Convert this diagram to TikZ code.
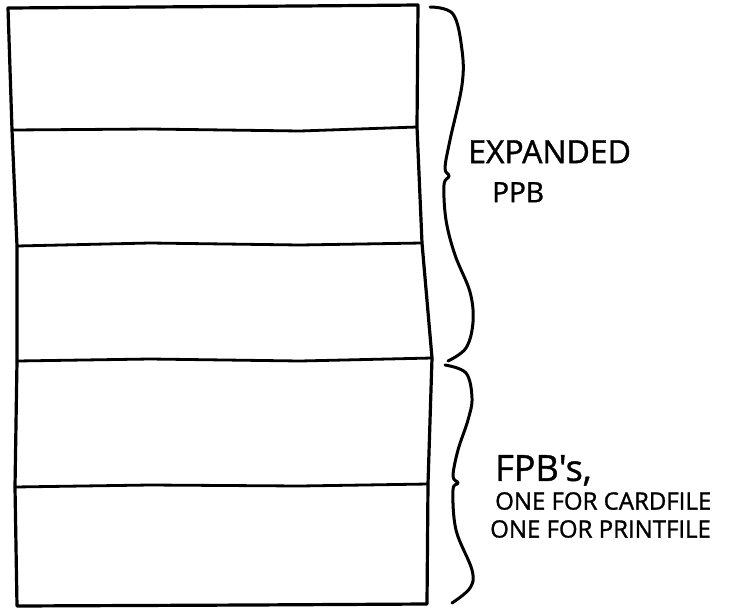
\documentclass[tikz,border=0pt]{standalone}
\usepackage{fontspec}
\setmainfont{Open Sans}
\newfontfamily\handfont{Open Sans}[FakeBold=1.2]
\usetikzlibrary{positioning}

\begin{document}
\begin{tikzpicture}[x=1pt, y=-1pt,
        frame/.style={line width=3.2pt, line join=round, line cap=round},
        divider/.style={line width=2.8pt, line cap=round},
        brace/.style={line width=3pt, line cap=round, line join=round},
        tag/.style={inner sep=0pt, anchor=north west}
    ]
        \useasboundingbox (0,0) rectangle (737,611);

        % the block, drawn by hand
        \draw[frame] (8,8) -- (150,7) -- (300,6) -- (418,5) -- (417,127) -- (422,243) -- (432,358)
            -- (428,484) -- (427,604) -- (250,605) -- (17,606) -- (15,487) -- (17,361) -- (17,246) -- (12,130) -- cycle;
        \draw[divider] (12,130) -- (150,129) -- (300,131) -- (417,127);
        \draw[divider] (17,246) -- (150,243) -- (300,245) -- (422,243);
        \draw[divider] (17,361) -- (150,359) -- (300,361) -- (432,358);
        \draw[divider] (15,487) -- (150,485) -- (300,486) -- (428,484);

        % braces
        \draw[brace] plot[smooth, tension=0.6] coordinates {(430,7) (453,14) (462,50) (462,85) (450,140)
            (445,168) (449,176) (444,185) (446,220) (455,255) (470,292) (473,322) (466,348) (448,361)};
        \draw[brace] plot[smooth, tension=0.6] coordinates {(445,365) (466,373) (472,398) (468,420) (458,450)
            (453,476) (458,483) (453,490) (456,530) (472,570) (470,588) (452,603)};

        \node[tag, font=\handfont\fontsize{32}{36}\selectfont] (expanded) at (468,140) {EXPANDED};
        \node[tag, font=\handfont\fontsize{28}{32}\selectfont] (ppb) at (492,182) {PPB};
        \node[tag, font=\handfont\fontsize{36}{40}\selectfont] (fpbs) at (495,455) {FPB's,};
        \node[tag, font=\handfont\fontsize{24}{28}\selectfont] (cardfile) at (495,492) {ONE FOR CARDFILE};
        \node[tag, font=\handfont\fontsize{24}{28}\selectfont] (printfile) at (490,520) {ONE FOR PRINTFILE};
    \end{tikzpicture}
\end{document}
